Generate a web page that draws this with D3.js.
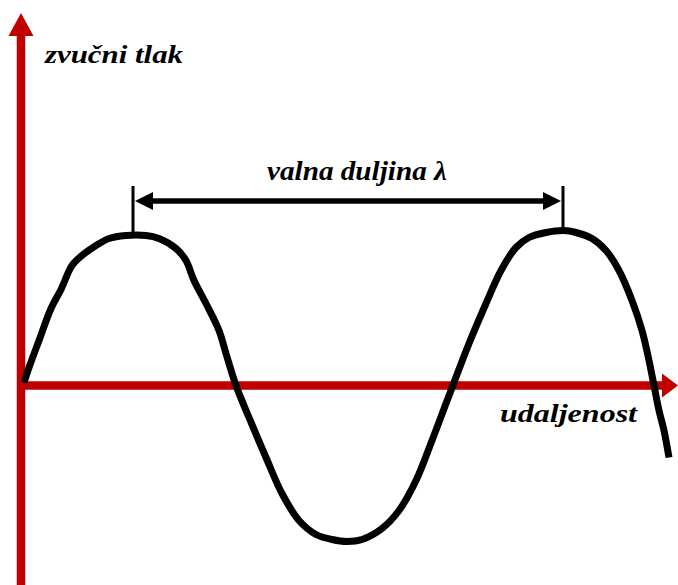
<!DOCTYPE html>
<html>
<head>
<meta charset="utf-8">
<script src="https://cdn.jsdelivr.net/npm/d3@7"></script>
<style>
  html, body { margin: 0; padding: 0; background: #fff; }
  svg { display: block; }
</style>
</head>
<body>
<div id="chart"></div>
<script>
// udaljenost (distance) and zvučni tlak (pressure)
const distance = [3, 8, 18, 30, 40, 51, 61, 75, 88, 105, 125, 138, 155, 165, 173, 185, 198, 205, 215,
  228, 245, 261, 278, 295, 311, 326, 341, 361, 378, 395, 411, 425, 433,
  448, 465, 480, 495, 508, 525, 543, 555, 571, 585, 598, 611, 621, 628, 633, 638, 643, 648];
const pressure = [3, 18, 45, 77, 96, 120, 130, 140, 147, 150, 150, 147, 137, 125, 105, 82, 55, 32, 0,
  -32, -72, -108, -135, -149, -154, -156, -154, -143, -125, -95, -55, -18, 3,
  42, 82, 115, 138, 148, 153, 155, 153, 147, 135, 115, 85, 55, 25, 0, -25, -45, -72];

// wavelength marker (from peak to peak)
const lambdaStart = 112;
const lambdaEnd = 542;

const labels = {
  y: "zvučni tlak",
  x: "udaljenost",
  lambda: "valna duljina λ"
};

const width = 678;
const height = 585;
const red = "#c00000";
const fontFamily = "'Liberation Serif', 'Times New Roman', serif";

const x = d3.scaleLinear().domain([0, 656]).range([21, 677]);
const y = d3.scaleLinear().domain([-199.5, 375.5]).range([585, 10]);

const svg = d3.select("#chart")
  .append("svg")
  .attr("width", width)
  .attr("height", height);

// axes
svg.append("line")
  .attr("x1", x(0)).attr("x2", x(0))
  .attr("y1", y(-199.5)).attr("y2", 30)
  .attr("stroke", red).attr("stroke-width", 8.5);

svg.append("path")
  .attr("d", `M${x(0) - 12.5},36 L${x(0)},13 L${x(0) + 12.5},36 Z`)
  .attr("fill", red);

svg.append("line")
  .attr("x1", x(0) - 4).attr("x2", 664)
  .attr("y1", y(0)).attr("y2", y(0))
  .attr("stroke", red).attr("stroke-width", 8.5);

svg.append("path")
  .attr("d", `M662,${y(0) - 12} L678,${y(0)} L662,${y(0) + 12} Z`)
  .attr("fill", red);

// wave
const points = distance.map((d, i) => [d, pressure[i]]);

const line = d3.line()
  .x(d => x(d[0]))
  .y(d => y(d[1]))
  .curve(d3.curveCatmullRom.alpha(0.5));

svg.append("path")
  .datum(points)
  .attr("d", line)
  .attr("fill", "none")
  .attr("stroke", "#000")
  .attr("stroke-width", 7)
  .attr("stroke-linejoin", "round");

// wavelength marker
const markY = 201;
[lambdaStart, lambdaEnd].forEach(v => {
  svg.append("line")
    .attr("x1", x(v)).attr("x2", x(v))
    .attr("y1", 186).attr("y2", 232)
    .attr("stroke", "#000").attr("stroke-width", 3);
});

svg.append("line")
  .attr("x1", x(lambdaStart) + 14).attr("x2", x(lambdaEnd) - 14)
  .attr("y1", markY).attr("y2", markY)
  .attr("stroke", "#000").attr("stroke-width", 5.5);

svg.append("path")
  .attr("d", `M${x(lambdaStart) + 2},${markY} L${x(lambdaStart) + 20},${markY - 9} L${x(lambdaStart) + 20},${markY + 9} Z`)
  .attr("fill", "#000");

svg.append("path")
  .attr("d", `M${x(lambdaEnd) - 2},${markY} L${x(lambdaEnd) - 20},${markY - 9} L${x(lambdaEnd) - 20},${markY + 9} Z`)
  .attr("fill", "#000");

// labels
function label(tx, ty, size, len, str) {
  svg.append("text")
    .attr("x", tx).attr("y", ty)
    .attr("font-family", fontFamily)
    .attr("font-weight", "bold")
    .attr("font-style", "italic")
    .attr("font-size", size)
    .attr("textLength", len)
    .attr("lengthAdjust", "spacingAndGlyphs")
    .attr("fill", "#000")
    .text(str);
}

label(45, 63, 26, 138, labels.y);
label(500, 422, 26, 137, labels.x);
label(267, 180, 27, 180, labels.lambda);
</script>
</body>
</html>
